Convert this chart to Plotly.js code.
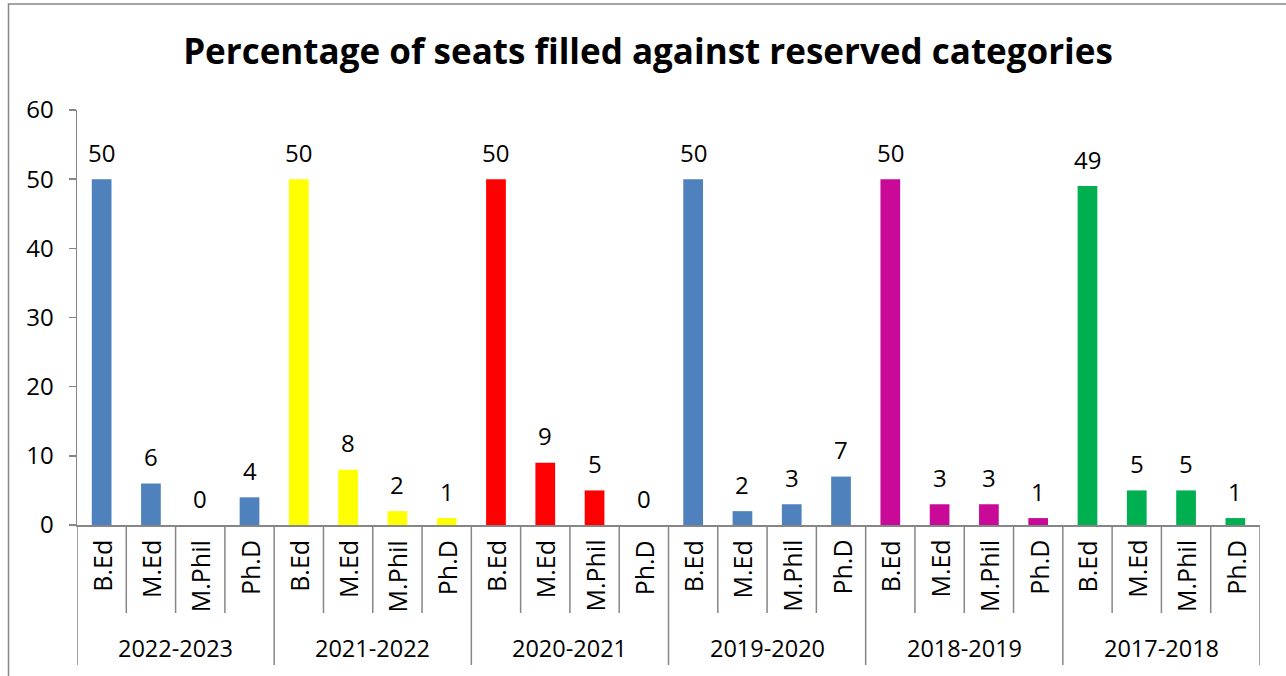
<!DOCTYPE html>
<html>
<head>
<meta charset="utf-8">
<script src="https://cdn.plot.ly/plotly-3.0.1.min.js"></script>
<style>html,body{margin:0;padding:0;background:#fff;}#chart{width:1286px;height:676px;}</style>
</head>
<body>
<div id="chart"></div>
<script>
const years = ["2022-2023", "2021-2022", "2020-2021", "2019-2020", "2018-2019", "2017-2018"];
const courses = ["B.Ed", "M.Ed", "M.Phil", "Ph.D"];
const values_2022_2023 = [50, 6, 0, 4];
const values_2021_2022 = [50, 8, 2, 1];
const values_2020_2021 = [50, 9, 5, 0];
const values_2019_2020 = [50, 2, 3, 7];
const values_2018_2019 = [50, 3, 3, 1];
const values_2017_2018 = [49, 5, 5, 1];
const yearColors = ["#4F81BD", "#FFFF00", "#FF0000", "#4F81BD", "#C90A98", "#00B050"];
const yTicks = [0, 10, 20, 30, 40, 50, 60];

const groups = [values_2022_2023, values_2021_2022, values_2020_2021, values_2019_2020, values_2018_2019, values_2017_2018];

const FONT = "Open Sans, Liberation Sans, sans-serif";
const GRAY = "#868686";

const xs = [], ys = [], cols = [];
groups.forEach((g, gi) => {
  g.forEach((v, ci) => {
    xs.push(gi * courses.length + ci);
    ys.push(v);
    cols.push(yearColors[gi]);
  });
});

const trace = {
  type: "bar",
  x: xs,
  y: ys,
  width: 0.4,
  marker: {color: cols, line: {width: 0}},
  hoverinfo: "none"
};

const annotations = [];
const shapes = [];
// data labels
xs.forEach((x, i) => {
  annotations.push({
    x: x, y: ys[i], xref: "x", yref: "y",
    text: String(ys[i]), showarrow: false,
    yanchor: "middle", yshift: 27,
    font: {family: FONT, size: 24, color: "#000"}
  });
});
// inner category labels (rotated)
xs.forEach((x, i) => {
  annotations.push({
    x: x, y: (525 - 538) / 415, xref: "x", yref: "paper",
    text: courses[i % courses.length], showarrow: false,
    textangle: -90, yanchor: "top", xanchor: "center",
    font: {family: FONT, size: 25, color: "#000"}
  });
});
// year labels
years.forEach((yr, gi) => {
  annotations.push({
    x: gi * courses.length + (courses.length - 1) / 2, y: (525 - 648) / 415,
    xref: "x", yref: "paper", text: yr, showarrow: false,
    yanchor: "middle", xanchor: "center",
    font: {family: FONT, size: 23.5, color: "#000"}
  });
});
// separators
const n = xs.length;
for (let k = 0; k <= n; k++) {
  const isGroup = (k % courses.length === 0);
  shapes.push({
    type: "line", xref: "x", yref: "paper",
    x0: k - 0.5, x1: k - 0.5, y0: 0,
    y1: isGroup ? (525 - 665) / 415 : (525 - 613) / 415,
    line: {color: GRAY, width: 1.5}
  });
}
// outer chart border
shapes.push({
  type: "rect", xref: "paper", yref: "paper",
  x0: (8.5 - 77) / 1183, x1: (1300 - 77) / 1183,
  y0: (525 - 700) / 415, y1: (525 - 4) / 415,
  line: {color: GRAY, width: 1.5}, fillcolor: "rgba(0,0,0,0)"
});

const layout = {
  width: 1286, height: 676,
  margin: {l: 77, r: 26, t: 110, b: 151, pad: 0},
  paper_bgcolor: "#fff", plot_bgcolor: "#fff",
  showlegend: false,
  title: {
    text: "<b>Percentage of seats filled against reserved categories</b>",
    xref: "container", x: 648 / 1286, xanchor: "center",
    yref: "container", y: 1 - 52 / 676, yanchor: "middle",
    font: {family: FONT, size: 35, color: "#000"}
  },
  xaxis: {
    range: [-0.5, n - 0.5], showticklabels: false, showgrid: false, zeroline: false,
    showline: true, linecolor: GRAY, linewidth: 1.5, ticks: "", fixedrange: true
  },
  yaxis: {
    range: [0, 60], tickvals: yTicks, ticktext: yTicks.map(String),
    showgrid: false, zeroline: false, showline: true, linecolor: GRAY, linewidth: 1.5,
    ticks: "outside", ticklen: 7, tickcolor: GRAY, tickwidth: 1.5,
    ticklabelstandoff: 10,
    tickfont: {family: FONT, size: 24, color: "#000"}, fixedrange: true
  },
  annotations: annotations,
  shapes: shapes,
  bargap: 0.6
};

Plotly.newPlot("chart", [trace], layout, {displayModeBar: false, staticPlot: true});
</script>
</body>
</html>
